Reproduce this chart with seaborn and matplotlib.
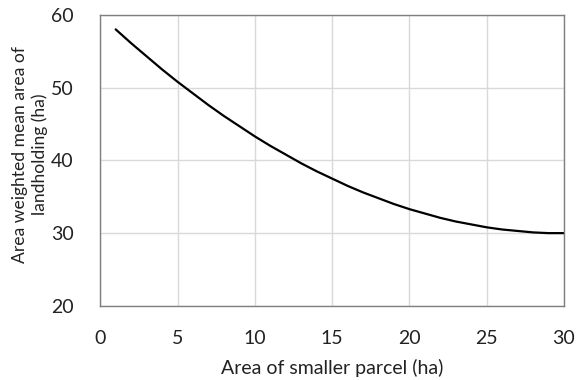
import matplotlib
matplotlib.use('Agg')
import matplotlib.pyplot as plt
import seaborn as sns
import pandas as pd

# values
parcel = [1, 2, 3, 4, 5, 6, 7, 8, 9, 10, 11, 12, 13, 14, 15,
          16, 17, 18, 19, 20, 21, 22, 23, 24, 25, 26, 27, 28, 29, 30]
mean_area = [58.0, 56.1, 54.3, 52.5, 50.8, 49.2, 47.6, 46.1, 44.7, 43.3,
             42.0, 40.8, 39.6, 38.5, 37.5, 36.5, 35.6, 34.8, 34.0, 33.3,
             32.7, 32.1, 31.6, 31.2, 30.8, 30.5, 30.3, 30.1, 30.0, 30.0]
x_ticks = [0, 5, 10, 15, 20, 25, 30]
y_ticks = [20, 30, 40, 50, 60]

df = pd.DataFrame({'parcel': parcel, 'area': mean_area})

sns.set_style('white')
plt.rcParams['font.family'] = ['Lato', 'DejaVu Sans']

fig = plt.figure(figsize=(5.76, 3.8), dpi=100)
ax = fig.add_axes([0.174, 0.195, 0.805, 0.766])

sns.lineplot(data=df, x='parcel', y='area', color='black', linewidth=1.6, ax=ax)

ax.set_xlim(0, 30)
ax.set_ylim(20, 60)
ax.set_xticks(x_ticks)
ax.set_yticks(y_ticks)
ax.grid(True, color='#d9d9d9', linewidth=1)
for s in ax.spines.values():
    s.set_color('#7f7f7f')
    s.set_linewidth(1)
ax.tick_params(axis='both', length=0, labelsize=14, colors='#222222')
ax.tick_params(axis='y', pad=19)
ax.tick_params(axis='x', pad=17)

ax.set_xlabel('Area of smaller parcel (ha)', fontsize=14, color='#222222', labelpad=9)
ax.set_ylabel('Area weighted mean area of\nlandholding (ha)', fontsize=12.6,
              color='#222222', linespacing=1.25)
ax.yaxis.set_label_coords(-0.112, 0.52)

fig.savefig('out.png', dpi=100)
